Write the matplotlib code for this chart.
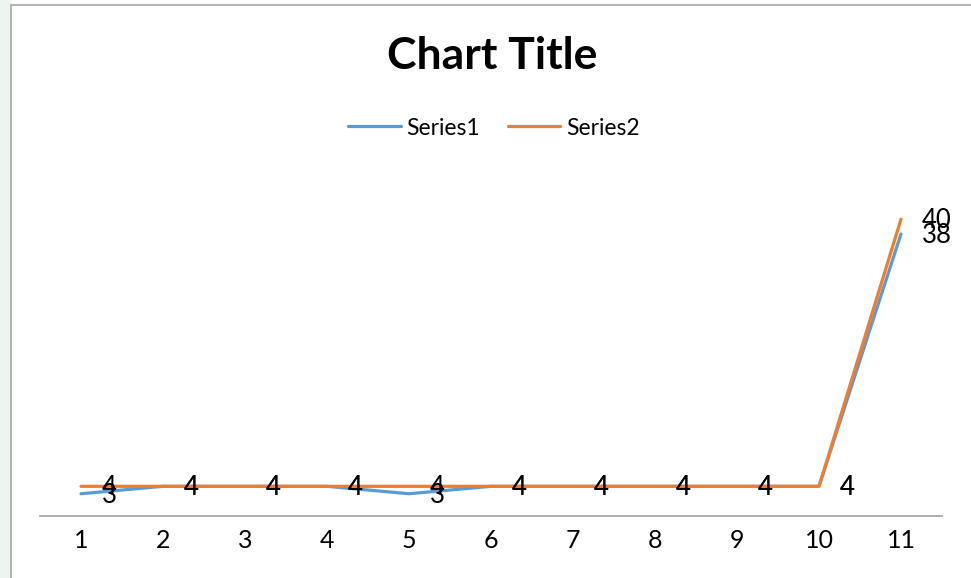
import matplotlib
matplotlib.use("Agg")
import matplotlib.pyplot as plt
from matplotlib.patches import Rectangle

plt.rcParams['font.family'] = ['Lato', 'DejaVu Sans']

categories = [1, 2, 3, 4, 5, 6, 7, 8, 9, 10, 11]
series1 = [3, 4, 4, 4, 3, 4, 4, 4, 4, 4, 38]
series2 = [4, 4, 4, 4, 4, 4, 4, 4, 4, 4, 40]
series_names = ['Series1', 'Series2']
colors = ['#5B9BD5', '#ED7D31']

W, H = 971, 578
fig = plt.figure(figsize=(W / 100, H / 100), dpi=100)
fig.patch.set_facecolor('white')

# faint strip at the far left and the chart frame
fig.patches.append(Rectangle((0, 0), 11 / W, 1, transform=fig.transFigure,
                             facecolor='#eef4ef', edgecolor='none', zorder=-2))
fig.patches.append(Rectangle((11 / W, -0.05), 1.0, 1 - 5 / H + 0.05,
                             transform=fig.transFigure, facecolor='white',
                             edgecolor='#a6a6a6', lw=1.2, zorder=-1))

ax = fig.add_axes([40 / W, (H - 516) / H, 902 / W, (516 - 145) / H])
ax.set_facecolor('none')
ax.set_zorder(2)

for vals, name, c in zip([series1, series2], series_names, colors):
    ax.plot(categories, vals, color=c, lw=2.3, label=name,
            solid_capstyle='round', solid_joinstyle='round')

for vals in [series1, series2]:
    for x, v in zip(categories, vals):
        ax.annotate(str(v), (x, v), xytext=(15, -1), textcoords='offset points',
                    ha='left', va='center', fontsize=18.5, color='black')

ax.set_xlim(0.5, 11.5)
ax.set_ylim(0, 50)
ax.set_xticks(categories)
ax.set_xticklabels([str(c) for c in categories], fontsize=18)
ax.tick_params(axis='x', length=0, pad=9.5)
ax.set_yticks([])
for s in ['top', 'right', 'left']:
    ax.spines[s].set_visible(False)
ax.spines['bottom'].set_color('#a6a6a6')
ax.spines['bottom'].set_linewidth(1.3)

fig.text(492 / W, 1 - 56 / H, 'Chart Title', ha='center', va='center',
         fontsize=32, fontweight='bold')

handles, labels = ax.get_legend_handles_labels()
fig.legend(handles, labels, loc='center', bbox_to_anchor=(494 / W, 1 - 128 / H),
           ncol=2, frameon=False, fontsize=16.5, handlelength=2.3,
           handletextpad=0.25, columnspacing=1.2)

fig.savefig('out.png', dpi=100)
